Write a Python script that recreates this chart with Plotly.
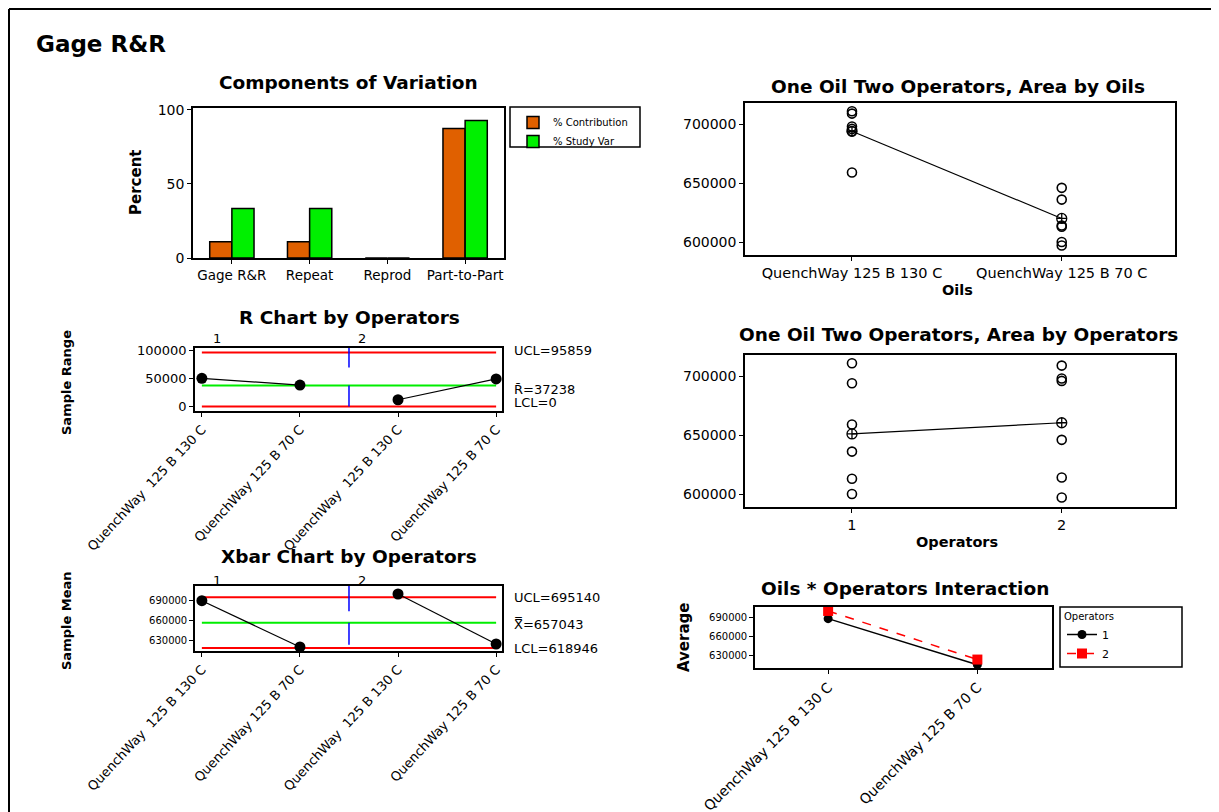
import plotly.graph_objects as go

W, H = 1219, 812

# ---------------- data ----------------
components = ["Gage R&R", "Repeat", "Reprod", "Part-to-Part"]
pct_contribution = [11.0, 11.0, 0.0, 87.5]
pct_study_var = [33.4, 33.4, 0.0, 92.8]

oils = ["QuenchWay 125 B 130 C", "QuenchWay 125 B 70 C"]
operators = ["1", "2"]

area_op1_oil130 = [711000, 694000, 659000]
area_op1_oil70 = [636000, 613000, 600000]
area_op2_oil130 = [709000, 698000, 696000]
area_op2_oil70 = [646000, 614000, 597000]
oil_means = [694000, 620000]
operator_means = [651000, 660500]

subgroup_labels = ["QuenchWay  125 B 130 C", "QuenchWay 125 B 70 C",
                   "QuenchWay  125 B 130 C", "QuenchWay 125 B 70 C"]
subgroup_pos = [1, 2, 3, 4]
sample_range = [50000, 38000, 12000, 49000]
r_ucl, r_bar, r_lcl = 95859, 37238, 0
sample_mean = [690000, 620500, 700000, 625000]
x_ucl, x_bar, x_lcl = 695140, 657043, 618946

interaction_op1 = [688000, 616000]
interaction_op2 = [700000, 624000]

# ---------------- style ----------------
FONT = "DejaVu Sans"
ORANGE = "#E06000"
GREEN = "#00F000"
RED = "#FF0000"
CGREEN = "#00EE00"
BLUE = "#0000FF"
OFF = 8  # page body margin compensation


def fx(px):
    return (px - OFF) / W


def fy(py):
    return 1 - (py - OFF) / H


def axis(x0, x1, **kw):
    d = dict(domain=[x0, x1], showline=True, linecolor="black", linewidth=1.5,
             mirror=True, ticks="outside", ticklen=4, tickcolor="black", tickwidth=1,
             showgrid=False, zeroline=False, fixedrange=True, automargin=False,
             tickformat="d",
             tickfont=dict(family=FONT, size=12, color="black"))
    d.update(kw)
    return d


fig = go.Figure()

# ---- Panel 1: components of variation ----
fig.add_trace(go.Bar(x=components, y=pct_contribution, name="% Contribution",
                     marker=dict(color=ORANGE, line=dict(color="black", width=1.5)),
                     xaxis="x", yaxis="y", legend="legend"))
fig.add_trace(go.Bar(x=components, y=pct_study_var, name="% Study Var",
                     marker=dict(color=GREEN, line=dict(color="black", width=1.5)),
                     xaxis="x", yaxis="y", legend="legend"))

# ---- Panel 2: R chart ----
r_top, r_bot = 104000, -8000
for yv, col in [(r_ucl, RED), (r_bar, CGREEN), (r_lcl, RED)]:
    fig.add_trace(go.Scatter(x=[subgroup_pos[0], subgroup_pos[-1]], y=[yv, yv], mode="lines",
                             line=dict(color=col, width=2), xaxis="x2", yaxis="y2",
                             showlegend=False, hoverinfo="skip"))
fig.add_trace(go.Scatter(x=[2.5, 2.5, None, 2.5, 2.5],
                         y=[r_top, (r_ucl + r_bar) / 2 + 3000, None, r_bar, r_lcl],
                         mode="lines", line=dict(color=BLUE, width=1.5),
                         xaxis="x2", yaxis="y2", showlegend=False, hoverinfo="skip"))
fig.add_trace(go.Scatter(x=subgroup_pos[:2] + [None] + subgroup_pos[2:],
                         y=sample_range[:2] + [None] + sample_range[2:],
                         mode="lines+markers", line=dict(color="black", width=1.2),
                         marker=dict(color="black", size=11),
                         xaxis="x2", yaxis="y2", showlegend=False))

# ---- Panel 3: Xbar chart ----
x_top, x_botm = 712000, 614500
for yv, col in [(x_ucl, RED), (x_bar, CGREEN), (x_lcl, RED)]:
    fig.add_trace(go.Scatter(x=[subgroup_pos[0], subgroup_pos[-1]], y=[yv, yv], mode="lines",
                             line=dict(color=col, width=2), xaxis="x3", yaxis="y3",
                             showlegend=False, hoverinfo="skip"))
fig.add_trace(go.Scatter(x=[2.5, 2.5, None, 2.5, 2.5],
                         y=[x_top, (x_ucl + x_bar) / 2 - 2000, None, x_bar, x_lcl + 5000],
                         mode="lines", line=dict(color=BLUE, width=1.5),
                         xaxis="x3", yaxis="y3", showlegend=False, hoverinfo="skip"))
fig.add_trace(go.Scatter(x=subgroup_pos[:2] + [None] + subgroup_pos[2:],
                         y=sample_mean[:2] + [None] + sample_mean[2:],
                         mode="lines+markers", line=dict(color="black", width=1.2),
                         marker=dict(color="black", size=11),
                         xaxis="x3", yaxis="y3", showlegend=False))

# ---- Panel 4: by oils ----
oil_x = [oils[0]] * 6 + [oils[1]] * 6
oil_y = area_op1_oil130 + area_op2_oil130 + area_op1_oil70 + area_op2_oil70
fig.add_trace(go.Scatter(x=oil_x, y=oil_y, mode="markers",
                         marker=dict(symbol="circle-open", size=9, color="black",
                                     line=dict(width=1.6, color="black")),
                         xaxis="x4", yaxis="y4", showlegend=False))
fig.add_trace(go.Scatter(x=oils, y=oil_means, mode="lines+markers",
                         line=dict(color="black", width=1.2),
                         marker=dict(symbol="circle-cross-open", size=10, color="black",
                                     line=dict(width=1.3, color="black")),
                         xaxis="x4", yaxis="y4", showlegend=False))

# ---- Panel 5: by operators ----
op_x = [operators[0]] * 6 + [operators[1]] * 6
op_y = area_op1_oil130 + area_op1_oil70 + area_op2_oil130 + area_op2_oil70
fig.add_trace(go.Scatter(x=op_x, y=op_y, mode="markers",
                         marker=dict(symbol="circle-open", size=9, color="black",
                                     line=dict(width=1.6, color="black")),
                         xaxis="x5", yaxis="y5", showlegend=False))
fig.add_trace(go.Scatter(x=operators, y=operator_means, mode="lines+markers",
                         line=dict(color="black", width=1.2),
                         marker=dict(symbol="circle-cross-open", size=10, color="black",
                                     line=dict(width=1.3, color="black")),
                         xaxis="x5", yaxis="y5", showlegend=False))

# ---- Panel 6: interaction ----
fig.add_trace(go.Scatter(x=oils, y=interaction_op1, name="1", mode="lines+markers",
                         line=dict(color="black", width=1.5),
                         marker=dict(symbol="circle", size=9, color="black"),
                         xaxis="x6", yaxis="y6", legend="legend2"))
fig.add_trace(go.Scatter(x=oils, y=interaction_op2, name="2", mode="lines+markers",
                         line=dict(color=RED, width=1.5, dash="dash"),
                         marker=dict(symbol="square", size=10, color=RED),
                         xaxis="x6", yaxis="y6", legend="legend2"))

# ---------------- layout ----------------
lay = dict(
    template="none",
    width=W, height=H, autosize=False,
    margin=dict(l=0, r=0, t=0, b=0, pad=0),
    paper_bgcolor="white", plot_bgcolor="white",
    font=dict(family=FONT, color="black", size=12),
    barmode="group", bargap=0.43, bargroupgap=0,
    hovermode=False,
)

# panel 1
lay["xaxis"] = axis(fx(193), fx(504), anchor="y", tickfont=dict(family=FONT, size=13.5))
lay["yaxis"] = axis(fy(258), fy(108), anchor="x", range=[0, 101.3],
                    tickvals=[0, 50, 100], tickfont=dict(family=FONT, size=14))
# panel 2
lay["xaxis2"] = axis(fx(195), fx(502), anchor="y2", range=[0.93, 4.06],
                     tickvals=subgroup_pos, ticktext=subgroup_labels, tickangle=-47,
                     tickfont=dict(family=FONT, size=13))
lay["yaxis2"] = axis(fy(411), fy(348), anchor="x2", range=[r_bot, r_top],
                     tickvals=[0, 50000, 100000], tickfont=dict(family=FONT, size=13))
# panel 3
lay["xaxis3"] = axis(fx(195), fx(502), anchor="y3", range=[0.93, 4.06],
                     tickvals=subgroup_pos, ticktext=subgroup_labels, tickangle=-47,
                     tickfont=dict(family=FONT, size=13))
lay["yaxis3"] = axis(fy(651), fy(586), anchor="x3", range=[x_botm, x_top],
                     tickvals=[630000, 660000, 690000], tickfont=dict(family=FONT, size=10))
# panel 4
lay["xaxis4"] = axis(fx(745), fx(1175), anchor="y4", range=[-0.51, 1.54], type="category",
                     tickfont=dict(family=FONT, size=14.5))
lay["yaxis4"] = axis(fy(255), fy(103), anchor="x4", range=[589000, 718000],
                     tickvals=[600000, 650000, 700000], tickfont=dict(family=FONT, size=14))
# panel 5
lay["xaxis5"] = axis(fx(745), fx(1175), anchor="y5", range=[-0.51, 1.54], type="category",
                     tickfont=dict(family=FONT, size=14.5))
lay["yaxis5"] = axis(fy(507), fy(355), anchor="x5", range=[589000, 718000],
                     tickvals=[600000, 650000, 700000], tickfont=dict(family=FONT, size=14))
# panel 6
lay["xaxis6"] = axis(fx(755), fx(1052), anchor="y6", range=[-0.49, 1.5], type="category",
                     tickangle=-45, tickfont=dict(family=FONT, size=14))
lay["yaxis6"] = axis(fy(668), fy(607), anchor="x6", range=[610800, 706200],
                     tickvals=[630000, 660000, 690000], tickfont=dict(family=FONT, size=10))

lay["legend"] = dict(x=fx(513), y=fy(108), xanchor="left", yanchor="top",
                     bgcolor="rgba(0,0,0,0)", borderwidth=0,
                     font=dict(family=FONT, size=10), tracegroupgap=0)
lay["legend2"] = dict(x=fx(1062), y=fy(607), xanchor="left", yanchor="top",
                      bgcolor="rgba(0,0,0,0)", borderwidth=0,
                      title=dict(text="Operators", side="top center", font=dict(family=FONT, size=10)),
                      font=dict(family=FONT, size=11), tracegroupgap=0)

shapes = []
# outer frame
for (x0, y0, x1, y1) in [(9, 9, 1213, 9), (9, 9, 9, 820), (1213, 9, 1213, 820)]:
    shapes.append(dict(type="line", xref="paper", yref="paper", x0=fx(x0), y0=fy(y0),
                       x1=fx(x1), y1=fy(y1), line=dict(color="black", width=2)))
# legend boxes
for (x0, y0, x1, y1) in [(510, 107, 640, 147), (1060, 607, 1182, 667)]:
    shapes.append(dict(type="rect", xref="paper", yref="paper", x0=fx(x0), y0=fy(y0),
                       x1=fx(x1), y1=fy(y1), line=dict(color="black", width=1.5)))
lay["shapes"] = shapes

ann = []


def text(x, y, s, size=12, bold=False, angle=0, xanchor="center", yanchor="middle", **kw):
    d = dict(x=fx(x), y=fy(y), xref="paper", yref="paper", text=("<b>%s</b>" % s) if bold else s,
             showarrow=False, textangle=angle, xanchor=xanchor, yanchor=yanchor,
             font=dict(family=FONT, size=size, color="black"))
    d.update(kw)
    ann.append(d)


TS = 18.5
text(34, 44, "Gage R&R", size=23, bold=True, xanchor="left")
text(348, 83, "Components of Variation", size=TS, bold=True)
text(349, 318, "R Chart by Operators", size=TS, bold=True)
text(349, 556, "Xbar Chart by Operators", size=TS, bold=True)
text(958, 86, "One Oil Two Operators, Area by Oils", size=TS, bold=True)
text(958, 335, "One Oil Two Operators, Area by Operators", size=TS, bold=True)
text(905, 588, "Oils * Operators Interaction", size=TS, bold=True)

text(136, 183, "Percent", size=15, bold=True, angle=-90)
text(66, 382, "Sample Range", size=13, bold=True, angle=-90)
text(66, 620, "Sample Mean", size=13, bold=True, angle=-90)
text(684, 638, "Average", size=15, bold=True, angle=-90)
text(957, 290, "Oils", size=14.5, bold=True)
text(957, 542, "Operators", size=14.5, bold=True)

# operator labels above control charts
for yy in (338, 580):
    text(217, yy, "1", size=13)
    text(362, yy, "2", size=13)


# control limit labels
def limlab(s, yv, yref, ys=0):
    ann.append(dict(x=fx(512), y=yv, xref="paper", yref=yref, text=s, showarrow=False,
                    xanchor="left", yanchor="middle", yshift=ys,
                    font=dict(family=FONT, size=13, color="black")))


limlab("UCL=%d" % r_ucl, r_ucl, "y2", 2)
limlab("R\u0304=%d" % r_bar, r_bar, "y2", -4)
limlab("LCL=%d" % r_lcl, r_lcl, "y2", 4)
limlab("UCL=%d" % x_ucl, x_ucl, "y3", 0)
limlab("X\u033f=%d" % x_bar, x_bar, "y3", -2)
limlab("LCL=%d" % x_lcl, x_lcl, "y3", 0)

lay["annotations"] = ann
fig.update_layout(**lay)
fig.write_html("out.html")
